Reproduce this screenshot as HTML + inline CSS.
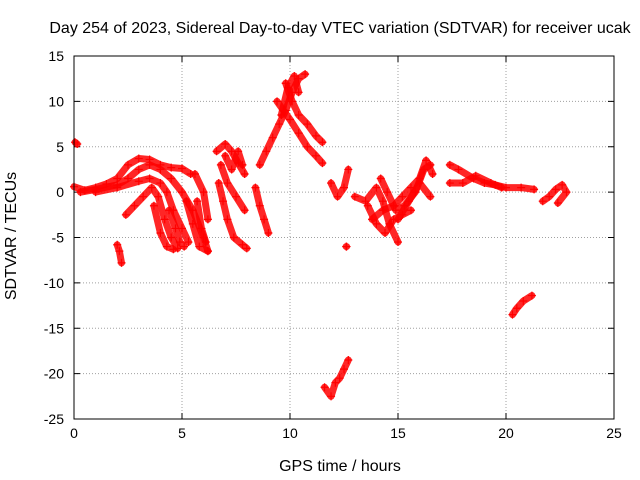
<!DOCTYPE html>
<html><head><meta charset="utf-8"><style>
body{margin:0;background:#fff;}
svg{display:block;font-family:"Liberation Sans",sans-serif;}
</style></head><body>
<svg id="chart" width="640" height="480">
<text x="340" y="33" font-size="16" text-anchor="middle">Day 254 of 2023, Sidereal Day-to-day VTEC variation (SDTVAR) for receiver ucak</text>
<text x="340" y="471" font-size="16" text-anchor="middle">GPS time / hours</text>
<text x="16" y="236" font-size="16" text-anchor="middle" transform="rotate(-90 16 236)">SDTVAR / TECUs</text>
<g id="grid"></g><g id="marks"></g>
<rect x="74" y="56" width="540" height="363" fill="none" stroke="#000" stroke-width="1"/>
</svg>
<script>
const xTicks=[0,5,10,15,20,25];
const yTicks=[15,10,5,0,-5,-10,-15,-20,-25];
const tracks=[
[[0.05,5.5],[0.15,5.3]],
[[0,0.6],[0.5,0.2],[1,0.5],[1.5,0.9],[2,1.5],[2.5,3],[3,3.7],[3.5,3.6],[4,3],[4.5,2.7],[5,2.6],[5.4,2]],
[[0.3,0],[1,0.3],[2,0.8],[2.5,1.5],[3,2.5],[3.5,3],[4,2.5],[4.5,1.5],[5,0],[5.5,-2],[6,-5],[6.2,-6.5]],
[[1,0],[2,0.5],[3,1.2],[3.5,1.5],[4,1],[4.3,0],[4.6,-2],[5,-4],[5.3,-5.5]],
[[2.4,-2.5],[2.8,-1.5],[3.2,-0.5],[3.6,0.5],[3.9,-0.5],[4.2,-3],[4.5,-5],[4.8,-6.2]],
[[3.7,-1.5],[4,-4.5],[4.3,-6],[4.6,-6.3]],
[[4.4,-2],[4.7,-4],[4.9,-5.5],[5.1,-6]],
[[5.2,-1],[5.5,-3.5],[5.8,-6],[6.2,-6.5]],
[[5.6,2],[6,0],[6.2,-3]],
[[5.7,-1],[5.9,-4],[6.1,-5.5]],
[[2,-5.8],[2.1,-6.5],[2.2,-7.8]],
[[6.6,4.5],[7,5.3],[7.3,4.5],[7.6,3.2],[7.9,2]],
[[6.7,1],[6.9,-1],[7.1,-3],[7.4,-5],[7.8,-5.8],[8,-6.2]],
[[6.8,3],[7.1,1],[7.5,-0.5],[7.9,-2]],
[[7,4],[7.3,2.5],[7.6,4.5],[7.8,3]],
[[8.4,0.5],[8.6,-1.5],[8.8,-3],[9,-4.5]],
[[8.6,3],[8.9,4.5],[9.2,6],[9.5,7.5],[9.8,9],[10.1,11],[10.4,12.5],[10.7,13]],
[[9.4,10],[9.7,9],[10,8],[10.4,6.5],[10.8,5],[11.2,4],[11.5,3.2]],
[[9.8,12],[10.1,10],[10.4,8.5],[10.8,7.5],[11.2,6.2],[11.5,5.5]],
[[9.6,8.5],[9.9,11.5],[10.2,12.8],[10.4,11]],
[[11.6,-21.5],[11.9,-22.5],[12.1,-21],[12.3,-20.5],[12.5,-19.5],[12.7,-18.5]],
[[11.9,1],[12.2,-0.5],[12.5,0.5],[12.7,2.5]],
[[12.6,-6],[12.62,-6]],
[[13,-0.5],[13.5,-1],[14,0.5],[14.3,-1],[14.6,-3.5],[15,-5.5]],
[[13.8,-3],[14.3,-2],[14.8,-1.5],[15.2,-0.5],[15.6,0.5],[16,1.5],[16.3,3.5],[16.6,2]],
[[15,-3],[15.5,-1],[16,1],[16.5,-0.5]],
[[13.6,-1.5],[14,-3.5],[14.4,-4.5],[14.8,-3],[15.2,-2.5],[15.6,-2]],
[[14.2,1.5],[14.5,0],[14.9,-2],[15.3,-1.5],[15.8,0],[16.2,2.5],[16.5,3]],
[[17.4,3],[17.8,2.5],[18.5,1.5],[19,1],[19.5,0.8],[20,0.5],[20.7,0.5],[21.3,0.3]],
[[17.4,1],[18,1],[18.6,1.8],[19.3,1],[19.8,0.5]],
[[20.3,-13.5],[20.5,-12.8],[20.8,-12],[21.2,-11.4]],
[[21.7,-1],[22,-0.5],[22.3,0.3],[22.6,0.8],[22.8,0],[22.4,-1.2]]
];
const L=74,R=614,T=56,B=419;
const sx=v=>L+(v-0)/(25-0)*(R-L);
const sy=v=>T+(15-v)/(15-(-25))*(B-T);
const NS='http://www.w3.org/2000/svg';
const grid=document.getElementById('grid'),marks=document.getElementById('marks');
function mk(tag,attrs,parent){const e=document.createElementNS(NS,tag);for(const k in attrs)e.setAttribute(k,attrs[k]);parent.appendChild(e);return e;}
xTicks.forEach(t=>{
 const x=sx(t);
 if(t>0&&t<25){const g=mk('line',{x1:x,y1:T,x2:x,y2:B,stroke:'#a0a0a0','stroke-dasharray':'1,2'},grid);
 
 }
 mk('line',{x1:x,y1:B,x2:x,y2:B-6,stroke:'#000'},grid);mk('line',{x1:x,y1:T,x2:x,y2:T+6,stroke:'#000'},grid);
 const l=mk('text',{x:x,y:B+19,'font-size':14,'text-anchor':'middle'},grid);l.textContent=t;
 
 
});
yTicks.forEach(t=>{
 const y=sy(t);
 if(t<15&&t>-25){const g=mk('line',{x1:L,y1:y,x2:R,y2:y,stroke:'#a0a0a0','stroke-dasharray':'1,2'},grid);
 
 }
 mk('line',{x1:L,y1:y,x2:L+6,y2:y,stroke:'#000'},grid);mk('line',{x1:R,y1:y,x2:R-6,y2:y,stroke:'#000'},grid);
 const l=mk('text',{x:L-10,y:y+5,'font-size':14,'text-anchor':'end'},grid);l.textContent=t;
 
 
});
tracks.forEach(tr=>{
 const g=mk('g',{},marks);
 
 
 if(tr.length>1){mk('polyline',{points:tr.map(p=>sx(p[0])+','+sy(p[1])).join(' '),fill:'none',stroke:'#f00','stroke-width':7,'stroke-linejoin':'round','stroke-linecap':'round',opacity:0.85},g);}
 tr.forEach(p=>{
  const x=sx(p[0]),y=sy(p[1]);
  const m=mk('path',{d:`M${x-4},${y}H${x+4}M${x},${y-4}V${y+4}`,stroke:'#f00','stroke-width':1.2},g);
  
  
 });
});
</script>
</body></html>
